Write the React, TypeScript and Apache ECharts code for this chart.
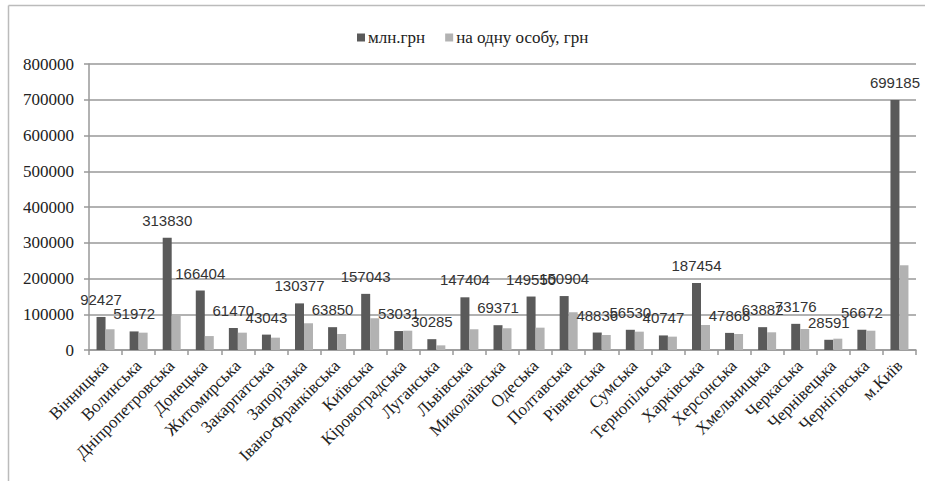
import React, { useEffect, useRef } from "react";
import * as echarts from "echarts";

const categories = [
  "Вінницька", "Волинська", "Дніпропетровська", "Донецька", "Житомирська",
  "Закарпатська", "Запорізька", "Івано-Франківська", "Київська", "Кіровоградська",
  "Луганська", "Львівська", "Миколаївська", "Одеська", "Полтавська",
  "Рівненська", "Сумська", "Тернопільська", "Харківська", "Херсонська",
  "Хмельницька", "Черкаська", "Чернівецька", "Чернігівська", "м.Київ",
];
const totalMln = [
  92427, 51972, 313830, 166404, 61470, 43043, 130377, 63850, 157043, 53031,
  30285, 147404, 69371, 149550, 150904, 48836, 56530, 40747, 187454, 47868,
  63882, 73176, 28591, 56672, 699185,
];
const perPerson = [
  58000, 48500, 100000, 39000, 48500, 34500, 74800, 44800, 88800, 54000,
  13000, 58000, 60800, 62500, 105600, 42000, 51300, 37400, 70000, 44800,
  49500, 58800, 31700, 54000, 237000,
];
const seriesNames = ["млн.грн", "на одну особу, грн"];
const yTicks = { min: 0, max: 800000, interval: 100000 };

export default function App() {
  const ref = useRef<HTMLDivElement>(null);
  useEffect(() => {
    if (!ref.current) return;
    const chart = echarts.init(ref.current, null, { renderer: "svg" });
    const serif = "Liberation Serif";
    chart.setOption({
      animation: false,
      backgroundColor: "#fff",
      textStyle: { fontFamily: serif },
      legend: {
        left: 352,
        top: 24,
        itemWidth: 8,
        itemHeight: 8,
        itemGap: 20,
        icon: "rect",
        textStyle: { fontFamily: serif, fontSize: 17, color: "#222", padding: [0, 0, 0, -2] },
        data: seriesNames,
      },
      grid: { left: 89, right: 9, top: 64, bottom: 131 },
      xAxis: {
        type: "category",
        data: categories,
        axisLine: { lineStyle: { color: "#999", width: 1.5 } },
        axisTick: { show: true, length: 5, lineStyle: { color: "#999", width: 1.5 } },
        axisLabel: {
          interval: 0,
          rotate: 45,
          margin: 13,
          fontFamily: serif,
          fontSize: 17,
          color: "#222",
        },
      },
      yAxis: {
        type: "value",
        min: yTicks.min,
        max: yTicks.max,
        interval: yTicks.interval,
        axisLine: { show: true, lineStyle: { color: "#999", width: 1.5 } },
        axisTick: { show: true, length: 5, lineStyle: { color: "#999", width: 1.5 } },
        splitLine: { lineStyle: { color: "#999", width: 1.5 } },
        axisLabel: {
          margin: 15,
          fontFamily: serif,
          fontSize: 17,
          color: "#222",
          formatter: (v: number) => String(v),
        },
      },
      series: [
        {
          name: seriesNames[0],
          type: "bar",
          data: totalMln,
          barWidth: 9,
          barGap: "0%",
          itemStyle: { color: "#5a5a5a" },
          label: {
            show: true,
            position: "top",
            distance: 10,
            fontFamily: "Liberation Sans",
            fontSize: 15,
            color: "#333",
          },
        },
        {
          name: seriesNames[1],
          type: "bar",
          data: perPerson,
          barWidth: 9,
          barGap: "0%",
          itemStyle: { color: "#b2b2b2" },
        },
      ],
      graphic: [
        { type: "line", shape: { x1: 8.5, y1: 5.5, x2: 925, y2: 5.5 }, style: { stroke: "#bbb", lineWidth: 1.5 } },
        { type: "line", shape: { x1: 8.5, y1: 5.5, x2: 8.5, y2: 481 }, style: { stroke: "#bbb", lineWidth: 1.5 } },
      ],
    });
    return () => chart.dispose();
  }, []);
  return (
    <div
      ref={ref}
      style={{ position: "fixed", left: 0, top: 0, width: 925, height: 481, background: "#fff" }}
    />
  );
}
